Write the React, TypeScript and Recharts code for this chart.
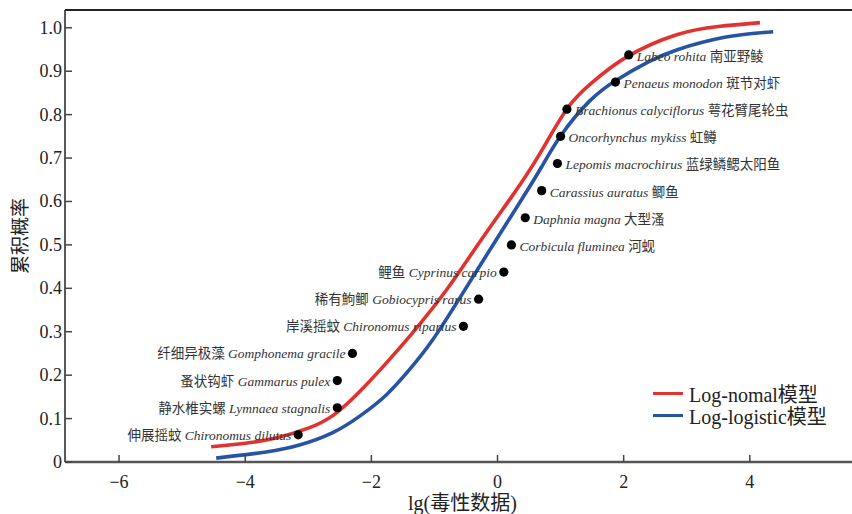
import { ComposedChart, Line, Scatter, XAxis, YAxis, Legend } from 'recharts';

// fitted curves
const normalX = [-4.54, -4.0, -3.5, -3.0, -2.6, -2.2, -1.8, -1.35, -0.81, -0.29, 0.22, 0.65, 1.1, 1.5, 2.05, 2.84, 3.5, 4.16];
const normalY = [0.035, 0.043, 0.056, 0.078, 0.108, 0.16, 0.222, 0.297, 0.396, 0.505, 0.61, 0.705, 0.813, 0.874, 0.933, 0.984, 1.003, 1.012];

const logisticX = [-4.46, -3.67, -3.14, -2.62, -2.19, -1.76, -1.4, -1.03, -0.55, -0.02, 0.38, 0.7, 1.0, 1.45, 1.89, 2.4, 2.84, 3.6, 4.37];
const logisticY = [0.009, 0.023, 0.039, 0.067, 0.105, 0.155, 0.212, 0.281, 0.389, 0.512, 0.604, 0.68, 0.751, 0.83, 0.88, 0.922, 0.949, 0.978, 0.991];

// species sensitivity points (top to bottom)
const speciesLatin = [
  'Labeo rohita', 'Penaeus monodon', 'Brachionus calyciflorus', 'Oncorhynchus mykiss',
  'Lepomis macrochirus', 'Carassius auratus', 'Daphnia magna', 'Corbicula fluminea',
  'Cyprinus carpio', 'Gobiocypris rarus', 'Chironomus riparius', 'Gomphonema gracile',
  'Gammarus pulex', 'Lymnaea stagnalis', 'Chironomus dilutus',
];
const speciesCn = [
  '南亚野鲮', '斑节对虾', '萼花臂尾轮虫', '虹鳟', '蓝绿鳞鳃太阳鱼', '鲫鱼', '大型溞', '河蚬',
  '鲤鱼', '稀有鮈鲫', '岸溪摇蚊', '纤细异极藻', '蚤状钩虾', '静水椎实螺', '伸展摇蚊',
];
const speciesX = [2.08, 1.87, 1.1, 1.0, 0.95, 0.7, 0.44, 0.22, 0.1, -0.3, -0.54, -2.3, -2.54, -2.54, -3.16];
const speciesY = [0.9375, 0.875, 0.8125, 0.75, 0.6875, 0.625, 0.5625, 0.5, 0.4375, 0.375, 0.3125, 0.25, 0.1875, 0.125, 0.0625];

const xTicks = [-6, -4, -2, 0, 2, 4];
const yTicks = [0, 0.1, 0.2, 0.3, 0.4, 0.5, 0.6, 0.7, 0.8, 0.9, 1.0];
const seriesNames = ['Log-nomal模型', 'Log-logistic模型'];

const RED = '#e0322e';
const BLUE = '#2653a3';
const SERIF = "'Liberation Serif', 'Times New Roman', 'Noto Sans CJK SC', serif";
const X_DOMAIN = [-6.857, 5.62];
const Y_DOMAIN = [0, 1.041];

const normalData = normalX.map((x, i) => ({ x, y: normalY[i] }));
const logisticData = logisticX.map((x, i) => ({ x, y: logisticY[i] }));
const speciesData = speciesX.map((x, i) => ({ x, y: speciesY[i], cn: speciesCn[i], latin: speciesLatin[i] }));

function YTick({ x, y, payload }: any) {
  const v = payload.value;
  return (
    <g>
      <line x1={x} x2={x + 7} y1={y} y2={y} stroke="#444" strokeWidth={1.5} />
      <text x={x - 3} y={y} textAnchor="end" dominantBaseline="central" fontSize={18} fontFamily={SERIF} fill="#222">
        {v === 0 ? '0' : v.toFixed(1)}
      </text>
    </g>
  );
}

function XTick({ x, y, payload }: any) {
  const v = payload.value;
  return (
    <g>
      <line x1={x} x2={x} y1={y} y2={y - 7} stroke="#444" strokeWidth={1.5} />
      <text x={x} y={y + 20} textAnchor="middle" dominantBaseline="central" fontSize={18} fontFamily={SERIF} fill="#222">
        {v < 0 ? `\u2212${Math.abs(v)}` : String(v)}
      </text>
    </g>
  );
}

function SpeciesLabel(props: any) {
  const { cx, cy, payload } = props;
  const right = payload.y >= 0.5;
  if (right) {
    return (
      <text x={cx + 8} y={cy + 1} dominantBaseline="central" fontSize={13.5} fontFamily={SERIF} fill="#333">
        <tspan fontStyle="italic">{payload.latin}</tspan>
        <tspan> {payload.cn}</tspan>
      </text>
    );
  }
  return (
    <text x={cx - 7} y={cy} textAnchor="end" dominantBaseline="central" fontSize={13.5} fontFamily={SERIF} fill="#333">
      <tspan>{payload.cn} </tspan>
      <tspan fontStyle="italic">{payload.latin}</tspan>
    </text>
  );
}

function Dot(props: any) {
  const { cx, cy } = props;
  return <circle cx={cx} cy={cy} r={4.6} fill="#000" />;
}

function LegendBox() {
  const colors = [RED, BLUE];
  return (
    <div style={{ fontFamily: SERIF, fontSize: 20, color: '#222' }}>
      {seriesNames.map((name, i) => (
        <div key={name} style={{ display: 'flex', alignItems: 'center', height: 22 }}>
          <span style={{ display: 'inline-block', width: 30, height: 3, background: colors[i], marginRight: 6 }} />
          <span>{name}</span>
        </div>
      ))}
    </div>
  );
}

export default function App() {
  return (
    <div style={{ position: 'absolute', left: 0, top: 0, width: 852, height: 514, background: '#fff' }}>
      <ComposedChart width={852} height={514} margin={{ top: 10, right: 0, bottom: 0, left: 0 }}>
        <XAxis
          dataKey="x"
          type="number"
          domain={X_DOMAIN}
          allowDataOverflow
          ticks={xTicks}
          height={52}
          tickSize={0}
          tickMargin={0}
          tickLine={false}
          tick={<XTick />}
          axisLine={{ stroke: '#555', strokeWidth: 2.5 }}
          label={({ viewBox }: any) => (
            <text
              x={viewBox.x + viewBox.width / 2 + 4}
              y={viewBox.y + 41}
              textAnchor="middle"
              dominantBaseline="central"
              fontSize={20}
              fontFamily={SERIF}
              fill="#222"
            >
              lg(毒性数据)
            </text>
          )}
        />
        <YAxis
          dataKey="y"
          type="number"
          domain={Y_DOMAIN}
          allowDataOverflow
          ticks={yTicks}
          width={65}
          tickSize={0}
          tickMargin={0}
          tickLine={false}
          tick={<YTick />}
          axisLine={{ stroke: '#222', strokeWidth: 1.5 }}
          label={({ viewBox }: any) => {
            const cx = viewBox.x + 20;
            const cy = viewBox.y + viewBox.height / 2;
            return (
              <text
                x={cx}
                y={cy}
                transform={`rotate(-90 ${cx} ${cy})`}
                textAnchor="middle"
                dominantBaseline="central"
                fontSize={19}
                fontFamily={SERIF}
                fill="#222"
              >
                累积概率
              </text>
            );
          }}
        />
        <Scatter data={speciesData} dataKey="y" shape={SpeciesLabel} legendType="none" isAnimationActive={false} />
        <Line
          data={normalData}
          dataKey="y"
          name={seriesNames[0]}
          type="natural"
          stroke={RED}
          strokeWidth={3.6}
          dot={false}
          activeDot={false}
          isAnimationActive={false}
        />
        <Line
          data={logisticData}
          dataKey="y"
          name={seriesNames[1]}
          type="natural"
          stroke={BLUE}
          strokeWidth={3.6}
          dot={false}
          activeDot={false}
          isAnimationActive={false}
        />
        <Scatter data={speciesData} dataKey="y" shape={Dot} legendType="none" isAnimationActive={false} />
        <Legend
          layout="vertical"
          align="center"
          verticalAlign="middle"
          content={() => <LegendBox />}
          wrapperStyle={{ left: 653, top: 382, width: 190 }}
        />
      </ComposedChart>
      {/* top frame line */}
      <div style={{ position: 'absolute', left: 65, top: 9, width: 787, height: 2, background: '#222', zIndex: 10 }} />
    </div>
  );
}
